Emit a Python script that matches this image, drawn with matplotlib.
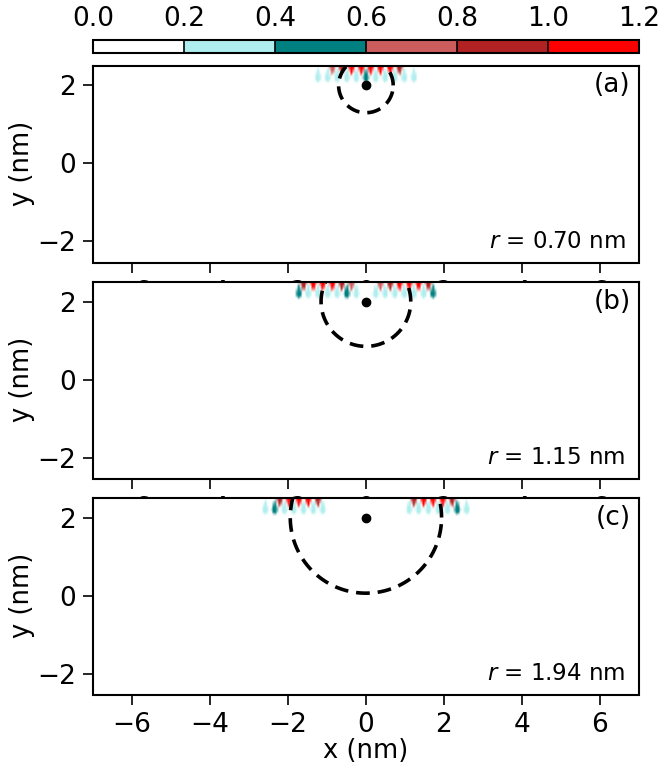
import numpy as np
import matplotlib
matplotlib.use("Agg")
import matplotlib.pyplot as plt
from matplotlib.colors import ListedColormap, BoundaryNorm
from matplotlib.cm import ScalarMappable

# ── data ──
colors = ['white', 'paleturquoise', 'teal', 'indianred', 'firebrick', 'red']
bounds = [0.0, 0.2, 0.4, 0.6, 0.8, 1.0, 1.2]
panel_tags = ['(a)', '(b)', '(c)']
radii = [0.70, 1.15, 1.94]
center = (0.0, 2.0)

# edge sites (top row: red, lower row: cyan), x in nm and peak values
top_x = [
    [-0.86, -0.62, -0.37, -0.12, 0.12, 0.37, 0.62, 0.86],
    [-1.60, -1.35, -1.11, -0.86, -0.62, -0.37, 0.37, 0.62, 0.86, 1.11, 1.35, 1.60],
    [-2.21, -1.97, -1.72, -1.48, -1.23, 1.23, 1.48, 1.72, 1.97, 2.21],
]
top_v = [
    [0.75, 0.95, 1.10, 1.15, 1.10, 1.10, 1.00, 0.80],
    [0.90, 1.10, 1.15, 1.00, 0.90, 0.75, 0.75, 0.90, 1.00, 1.15, 1.10, 0.90],
    [0.85, 1.10, 1.15, 1.00, 0.85, 0.85, 1.00, 1.15, 1.10, 0.85],
]
bot_x = [
    [-1.23, -0.98, -0.74, -0.49, -0.25, 0.0, 0.25, 0.49, 0.74, 0.98, 1.23],
    [-1.72, -1.48, -1.23, -0.98, -0.74, -0.49, -0.25, 0.25, 0.49, 0.74, 0.98, 1.23, 1.48, 1.72],
    [-2.58, -2.34, -2.09, -1.85, -1.60, -1.35, -1.11, 1.11, 1.35, 1.60, 1.85, 2.09, 2.34, 2.58],
]
bot_v = [
    [0.25, 0.30, 0.30, 0.28, 0.28, 0.45, 0.28, 0.28, 0.30, 0.30, 0.25],
    [0.50, 0.30, 0.30, 0.30, 0.30, 0.50, 0.25, 0.25, 0.30, 0.32, 0.30, 0.30, 0.30, 0.50],
    [0.25, 0.50, 0.30, 0.30, 0.30, 0.30, 0.25, 0.25, 0.30, 0.30, 0.30, 0.30, 0.50, 0.25],
]

plt.rcParams['font.family'] = ['DejaVu Sans']
plt.rcParams['axes.linewidth'] = 1.5

cmap = ListedColormap(colors)
norm = BoundaryNorm(bounds, cmap.N)

# fine grid, coloured and then averaged down to a coarse, blurry map
step, blk = 0.01, 5
gx = np.arange(-7.0, 7.0, step) + step / 2
gy = np.arange(1.9, 2.5, step) + step / 2
X, Y = np.meshgrid(gx, gy)


def site_field(txs, tvs, bxs, bvs):
    f = np.zeros_like(X)
    # red triangles hanging from the edge
    w_red = 0.09 * np.clip((Y - 2.22) / 0.28, 0, 1)
    for x0, v in zip(txs, tvs):
        f = np.maximum(f, np.where(np.abs(X - x0) < w_red, v, 0))
    # cyan drops pointing up
    w_up = 0.07 * np.clip((2.46 - Y) / 0.26, 0, 1)
    w_lo = 0.07 * np.sqrt(np.clip(1 - ((2.2 - Y) / 0.13) ** 2, 0, 1))
    w_cy = np.where(Y >= 2.2, w_up, w_lo)
    for x0, v in zip(bxs, bvs):
        f = np.maximum(f, np.where(np.abs(X - x0) < w_cy, v, 0))
    return f


def coarse_rgba(field):
    rgba = cmap(norm(field))
    ny, nx = field.shape
    rgba = rgba[:ny // blk * blk, :nx // blk * blk]
    return rgba.reshape(ny // blk, blk, nx // blk, blk, 4).mean(axis=(1, 3))


fig = plt.figure(figsize=(6.59, 7.63), dpi=100)

ax_bottoms = [0.658, 0.3748, 0.0917]
ax_left, ax_w, ax_h = 0.141, 0.8285, 0.2556
axes = []
for i in range(3):
    ax = fig.add_axes([ax_left, ax_bottoms[i], ax_w, ax_h])
    field = site_field(top_x[i], top_v[i], bot_x[i], bot_v[i])
    ax.imshow(coarse_rgba(field), origin='lower', extent=[-7, 7, 1.9, 2.5],
              interpolation='bilinear', aspect='auto')
    t = np.linspace(0, 2 * np.pi, 400)
    ax.plot(center[0] + radii[i] * np.cos(t), center[1] + radii[i] * np.sin(t),
            color='black', lw=2.6, linestyle=(0, (3.8, 2.2)))
    ax.plot(*center, 'o', color='black', ms=6)
    ax.set_xlim(-7, 7)
    ax.set_ylim(-2.5, 2.5)
    ax.set_xticks([-6, -4, -2, 0, 2, 4, 6])
    ax.set_yticks([-2, 0, 2])
    ax.tick_params(labelsize=19, length=7, width=1.2, pad=5)
    ax.spines['bottom'].set_position(('outward', 1.5))
    ax.set_ylabel('y (nm)', fontsize=18.5, labelpad=2)
    ax.text(0.985, 0.9, panel_tags[i], transform=ax.transAxes, ha='right',
            va='center', fontsize=19)
    ax.text(0.975, 0.1, r'$r$ = %.2f nm' % radii[i], transform=ax.transAxes,
            ha='right', va='center', fontsize=16.5)
    axes.append(ax)

axes[-1].set_xlabel('x (nm)', fontsize=18.5, labelpad=0)

cax = fig.add_axes([0.141, 0.9305, 0.8285, 0.017])
cb = fig.colorbar(ScalarMappable(norm=norm, cmap=cmap), cax=cax,
                  orientation='horizontal', drawedges=True, ticks=bounds)
cb.ax.xaxis.set_ticks_position('top')
cb.ax.tick_params(labelsize=19, length=0, pad=6)
cb.ax.set_xticklabels(['%.1f' % b for b in bounds])
cb.outline.set_linewidth(1.5)
cb.dividers.set_linewidth(1.2)

plt.savefig('out.png', dpi=100)
plt.close()
